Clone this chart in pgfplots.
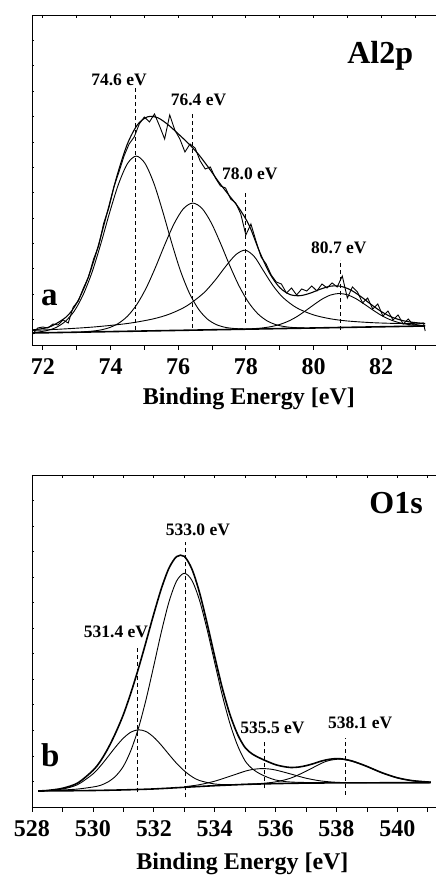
\documentclass[border=0pt]{standalone}
\usepackage{pgfplots}
\pgfplotsset{compat=1.18}
\usepackage{fontspec}
\setmainfont{Liberation Serif}
\tikzset{
  plab/.style={font=\fontsize{17.5}{20}\selectfont\bfseries, anchor=center},
  tlab/.style={font=\fontsize{24}{28}\selectfont\bfseries},
}
\pgfplotsset{
  base/.style={anchor=south west, scale only axis, width=404pt, clip=false,
    axis line style={line width=0.9pt}, tick style={black, line width=0.7pt}},
  comp/.style={black, line width=0.9pt, smooth, tension=0.5, mark=none},
  dash/.style={black, line width=1pt, dash pattern=on 4pt off 3pt, mark=none},
}
\begin{document}
\begin{tikzpicture}
% ================= TOP PANEL =================
\begin{axis}[base, at={(32pt,532pt)}, height=330pt,
  xmin=71.68, xmax=83.62, ymin=0, ymax=330,
  axis x line*=bottom, axis y line*=left, xtick=\empty,
  ytick={25.38,50.76,...,310}, yticklabels={}, tick align=inside, major tick length=2.5pt]
\addplot[black, line width=1.6pt, mark=none] coordinates {(71.7,12) (83.3,19)};
\addplot[comp] coordinates {(71.7,12.5)(71.87,13.0)(72.135,14.55)(72.40,17.65)(72.66,23.5)(72.925,33.7)(73.185,49.7)(73.45,72.3)(73.71,100.7)(73.97,131.9)(74.235,160.7)(74.50,181.3)(74.76,188.9)(75.02,181.6)(75.285,161.4)(75.55,132.8)(75.81,102.0)(76.07,73.9)(76.335,51.6)(76.60,35.9)(76.86,26.0)(77.12,20.5)(77.385,17.7)(77.65,16.5)(77.91,16.1)};
\addplot[comp] coordinates {(73.13,13.1)(73.405,13.7)(73.68,14.85)(73.955,17.2)(74.23,21.5)(74.505,28.9)(74.78,40.6)(75.055,57.0)(75.33,77.7)(75.605,100.4)(75.88,121.3)(76.155,136.3)(76.43,141.9)(76.705,136.6)(76.98,122.0)(77.255,101.4)(77.53,79.0)(77.805,58.7)(78.08,42.6)(78.355,31.2)(78.63,24.1)(78.905,20.15)(79.18,18.2)(79.455,17.35)(79.73,17.1)};
\addplot[comp] coordinates {(71.7,14.6)(72.5,15.8)(73.5,18.0)(74.5,21.5)(75.25,26.0)(75.75,31.0)(76.25,39.0)(76.75,51.9)(77.1,65.1)(77.4,78.4)(77.7,90.2)(77.98,94.8)(78.25,88.4)(78.5,75.3)(78.8,59.5)(79.1,47.4)(79.5,37.2)(80.0,30.1)(80.5,26.2)(81.0,24.0)(81.75,22.3)(82.5,21.5)(83.3,21.2)};
\addplot[comp] coordinates {(77.75,15.7)(78.25,16.4)(78.5,17.1)(78.75,18.4)(79.0,20.5)(79.25,23.7)(79.5,28.2)(79.75,33.9)(80.0,40.0)(80.25,45.8)(80.5,49.9)(80.75,51.5)(81.0,50.2)(81.25,46.4)(81.5,40.9)(81.75,35.1)(82.0,29.7)(82.25,25.5)(82.5,22.6)(82.75,20.8)(83.0,19.8)(83.3,19.3)};
\addplot[comp, line width=1.1pt] coordinates {(71.7,15.1)(72.2,18.1)(72.7,28.3)(73.0,41.8)(73.3,63.8)(73.6,94.6)(73.9,132.1)(74.2,170.1)(74.5,201.1)(74.8,220.4)(75.1,228.2)(75.4,227.2)(75.7,220.3)(76.0,211.2)(76.3,201.6)(76.6,190.7)(76.9,177.3)(77.2,163.0)(77.5,149.8)(77.8,136.7)(78.1,119.5)(78.4,93.7)(78.7,71.9)(79.0,57.5)(79.3,50.5)(79.6,49.3)(79.9,51.8)(80.2,55.8)(80.5,58.8)(80.8,58.7)(81.1,55.0)(81.4,48.4)(81.7,40.6)(82.0,33.5)(82.3,28.1)(82.6,24.7)(82.9,22.8)(83.3,21.5)};
\addplot[black, line width=0.9pt, mark=none, sharp plot] coordinates {(71.7,11)(71.85,17)(72.0,18)(72.15,17)(72.3,21)(72.45,20)(72.6,25)(72.75,22)(72.9,38)(73.05,44)(73.2,57)(73.35,68)(73.5,86)(73.65,99)(73.8,122)(73.95,137)(74.1,158)(74.25,173)(74.4,189)(74.55,201)(74.7,208)(74.85,221)(75.0,228)(75.15,223)(75.3,231)(75.45,219)(75.6,206)(75.75,230)(75.9,215)(76.05,206)(76.2,193)(76.35,201)(76.5,197)(76.65,184)(76.8,176)(76.95,178)(77.1,167)(77.25,159)(77.4,157)(77.55,146)(77.7,142)(77.85,131)(78.0,110)(78.15,121)(78.3,104)(78.45,88)(78.6,81)(78.75,70)(78.9,63)(79.05,61)(79.2,52)(79.35,57)(79.5,50)(79.65,56)(79.8,54)(79.95,59)(80.1,54)(80.25,61)(80.4,57)(80.55,62)(80.7,58)(80.85,69)(81.0,47)(81.15,58)(81.3,53)(81.45,42)(81.6,47)(81.75,36)(81.9,41)(82.05,29)(82.2,34)(82.35,25)(82.5,30)(82.65,21)(82.8,26)(82.95,20)(83.1,21)(83.25,22)(83.3,14)};
\addplot[dash] coordinates {(74.73,15) (74.73,257)};
\addplot[dash] coordinates {(76.43,17) (76.43,233)};
\addplot[dash] coordinates {(77.98,22) (77.98,153)};
\addplot[dash] coordinates {(80.80,15) (80.80,85)};
\node[plab] at (axis cs:74.25,265.5) {74.6 eV};
\node[plab] at (axis cs:76.6,245) {76.4 eV};
\node[plab] at (axis cs:78.12,171) {78.0 eV};
\node[plab] at (axis cs:80.75,97) {80.7 eV};
\node[font=\fontsize{32}{36}\selectfont\bfseries, anchor=base] at (axis cs:81.97,281.7) {Al2p};
\node[font=\fontsize{33}{36}\selectfont\bfseries, anchor=base] at (axis cs:72.19,39) {a};
\end{axis}
\begin{axis}[base, at={(32pt,532pt)}, height=330pt,
  xmin=71.68, xmax=83.62, ymin=0, ymax=330,
  axis x line*=bottom, axis y line=none, tick align=outside,
  xtick={72,74,...,82}, xticklabels={72,74,76,78,80,82},
  minor xtick={73,75,...,83}, major tick length=5pt, minor tick length=5pt,
  xticklabel style={tlab, anchor=base, yshift=-25pt},
  xlabel={Binding Energy [eV]},
  xlabel style={tlab, at={(axis description cs:0.537,0)}, anchor=base, yshift=-60pt}]
\end{axis}
\begin{axis}[base, at={(32pt,532pt)}, height=330pt,
  xmin=71.68, xmax=83.62, ymin=0, ymax=330,
  axis x line*=top, axis y line=none, tick align=inside,
  xtick={72,73,...,83}, xticklabels={}, major tick length=3pt]
\end{axis}
% ================= BOTTOM PANEL =================
\begin{axis}[base, at={(32pt,70pt)}, height=332pt,
  xmin=528, xmax=541.27, ymin=0, ymax=332,
  axis x line*=bottom, axis y line*=left, xtick=\empty,
  ytick={25.54,51.08,...,320}, yticklabels={}, tick align=inside, major tick length=2.5pt]
\addplot[black, line width=1.6pt, mark=none, smooth, tension=0.4] coordinates {(528.2,16)(529,16.2)(530,16.5)(531,17.1)(532,18.05)(533,19.7)(534,21.3)(535,22.6)(536,23.4)(537,23.9)(538,24.1)(541.1,24.3)};
\addplot[comp] coordinates {(528.5,16.4)(529.0,17.9)(529.5,22.4)(530.0,33.0)(530.25,41.05)(530.5,50.5)(530.75,60.2)(531.0,68.8)(531.25,74.9)(531.5,77.2)(531.75,75.4)(532.0,69.8)(532.25,61.7)(532.5,52.5)(532.75,43.65)(533.0,36.2)(533.25,30.4)(533.5,26.5)(534.0,23.0)(534.5,22.3)(535.0,22.7)};
\addplot[comp] coordinates {(529.0,17.0)(529.5,17.95)(530.0,20.0)(530.25,21.65)(530.5,25.1)(530.75,30.95)(531.0,40.6)(531.25,56.7)(531.5,79.2)(531.75,108.0)(532.0,141.2)(532.25,175.2)(532.5,205.2)(532.75,226.0)(533.0,233.7)(533.25,226.8)(533.5,206.9)(533.75,177.7)(534.0,144.5)(534.25,111.8)(534.5,83.65)(534.75,61.7)(535.0,46.1)(535.25,37.85)(535.5,33.0)(535.75,29.55)(536.0,27.0)(536.25,25.7)(536.5,24.95)(537.0,24.5)(537.5,24.3)};
\addplot[comp] coordinates {(533.0,20.2)(533.5,22.3)(534.0,25.8)(534.5,30.7)(535.0,35.8)(535.25,37.55)(535.53,38.4)(535.75,38.15)(536.0,37.0)(536.5,33.0)(537.0,28.8)(537.5,26.0)(538.0,24.7)(538.5,24.3)(539.0,24.2)};
\addplot[comp] coordinates {(535.0,22.7)(535.5,23.5)(536.0,25.1)(536.5,28.9)(537.0,35.75)(537.5,43.6)(537.75,46.45)(538.05,47.8)(538.25,47.4)(538.5,45.9)(538.75,43.55)(539.0,40.6)(539.5,34.2)(540.0,29.2)(540.5,26.3)(541.1,24.8)};
\addplot[comp, line width=1.6pt] coordinates {(528.2,16.1)(528.5,16.5)(529.0,18.7)(529.5,24.0)(530.0,36.5)(530.25,46.0)(530.5,58.8)(530.75,74.3)(531.0,92.3)(531.25,114.3)(531.5,138.9)(531.75,165.6)(532.0,193.0)(532.25,218.5)(532.5,238.9)(532.75,250.4)(533.0,250.7)(533.25,238.1)(533.5,214.7)(533.75,183.9)(534.0,150.7)(534.25,119.1)(534.5,92.7)(534.75,72.8)(535.0,59.4)(535.25,52.7)(535.5,48.7)(535.75,45.3)(536.0,42.3)(536.25,40.5)(536.5,39.5)(536.75,39.9)(537.0,41.3)(537.25,43.4)(537.5,45.9)(537.75,47.6)(538.0,48.4)(538.25,47.8)(538.5,46.1)(538.75,43.5)(539.0,40.6)(539.5,34.2)(540.0,29.2)(540.5,26.3)(541.1,24.8)};
\addplot[dash] coordinates {(531.46,15.3) (531.46,160.3)};
\addplot[dash] coordinates {(533.03,9.7) (533.03,265.3)};
\addplot[dash] coordinates {(535.64,18.7) (535.64,65.3)};
\addplot[dash] coordinates {(538.30,12) (538.30,68.7)};
\node[plab] at (axis cs:533.45,277) {533.0 eV};
\node[plab] at (axis cs:530.76,175.3) {531.4 eV};
\node[plab] at (axis cs:535.9,78.7) {535.5 eV};
\node[plab] at (axis cs:538.78,83.7) {538.1 eV};
\node[font=\fontsize{32}{36}\selectfont\bfseries, anchor=base] at (axis cs:539.96,293.7) {O1s};
\node[font=\fontsize{33}{36}\selectfont\bfseries, anchor=base] at (axis cs:528.6,40.3) {b};
\end{axis}
\begin{axis}[base, at={(32pt,70pt)}, height=332pt,
  xmin=528, xmax=541.27, ymin=0, ymax=332,
  axis x line*=bottom, axis y line=none, tick align=outside,
  xtick={528,530,...,540}, xticklabels={528,530,532,534,536,538,540},
  minor xtick={529,531,...,541}, major tick length=5pt, minor tick length=5pt,
  xticklabel style={tlab, anchor=base, yshift=-25pt},
  xlabel={Binding Energy [eV]},
  xlabel style={tlab, at={(axis description cs:0.521,0)}, anchor=base, yshift=-62pt}]
\end{axis}
\begin{axis}[base, at={(32pt,70pt)}, height=332pt,
  xmin=528, xmax=541.27, ymin=0, ymax=332,
  axis x line*=top, axis y line=none, tick align=inside,
  xtick={528,529,...,541}, xticklabels={}, major tick length=3pt]
\end{axis}
\pgfresetboundingbox
\path[use as bounding box] (0pt,0pt) rectangle (436pt,877pt);
\end{tikzpicture}
\end{document}
